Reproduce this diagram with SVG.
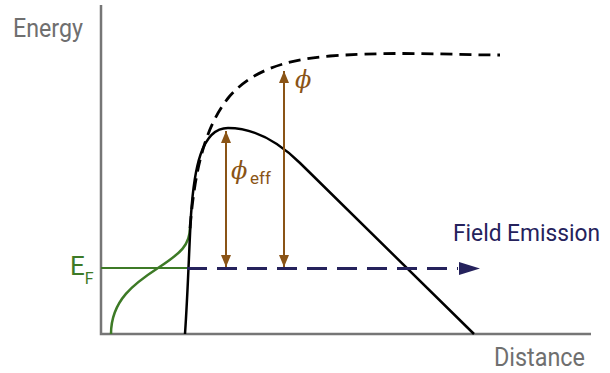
<svg xmlns="http://www.w3.org/2000/svg" width="610" height="373" viewBox="0 0 610 373">
<style>
.axis{stroke:#767676;stroke-width:2.5;fill:none}
.lbl{font-family:Roboto,"Liberation Sans",sans-serif}
.gray{fill:#6f6f6f}
.brown{stroke:#8a5416;stroke-width:2;fill:none}
</style>
<defs>
<marker id="bh" viewBox="0 0 12 10" refX="12" refY="5" markerWidth="12" markerHeight="10" markerUnits="userSpaceOnUse" orient="auto-start-reverse">
<path d="M0,0 L12,5 L0,10 Z" fill="#8a5416"/>
</marker>
</defs>
<rect width="610" height="373" fill="#fff"/>
<g id="axes">
<path class="axis" d="M101,5 V334 H591"/>
<text class="lbl gray" x="13" y="37" font-size="25" textLength="70" lengthAdjust="spacingAndGlyphs">Energy</text>
<text class="lbl gray" x="494" y="366" font-size="26" textLength="91" lengthAdjust="spacingAndGlyphs">Distance</text>
</g>
<g id="fermi">
<line x1="101" y1="268" x2="190" y2="268" stroke="#3d7a26" stroke-width="2"/>
<path d="M111,334 C111,300 135,283 158,268 C181,253 190,245 190,227" stroke="#3d7a26" stroke-width="2.5" fill="none"/>
<text class="lbl" x="70" y="275" font-size="26" fill="#3d7a26">E<tspan font-size="16" dx="0" dy="9">F</tspan></text>
</g>
<g id="barriers">
<path d="M190,228 C194,180 202,130 229,97 C250,73 280,60 330,56 C400,51 450,55 500,55" stroke="#000" stroke-width="2.8" fill="none" stroke-dasharray="12,7"/>
<path d="M185,334 C188,290 189,250 191,215 C194,170 201,128 228,128 C251,128 276,139.5 300,163 L474,334" stroke="#000" stroke-width="2.5" fill="none"/>
</g>
<g id="connectors">
<line class="brown" x1="284" y1="267" x2="284" y2="71" marker-start="url(#bh)" marker-end="url(#bh)"/>
<line class="brown" x1="226" y1="267" x2="226" y2="131" marker-start="url(#bh)" marker-end="url(#bh)"/>
<line x1="187" y1="268.5" x2="458" y2="268.5" stroke="#25225c" stroke-width="3" stroke-dasharray="20,10"/>
<path d="M459,262 L480,268.5 L459,275 Z" fill="#25225c"/>
</g>
<g id="labels">
<text x="295" y="88" font-family="'DejaVu Serif',serif" font-style="italic" font-size="24" fill="#8a5416">ϕ</text>
<text x="231" y="179" font-family="'DejaVu Serif',serif" font-style="italic" font-size="24" fill="#8a5416">ϕ</text>
<text class="lbl" x="250" y="184" font-size="17" fill="#8a5416">eff</text>
<text class="lbl" x="453" y="241" font-size="24" fill="#25225c" textLength="147" lengthAdjust="spacingAndGlyphs">Field Emission</text>
</g>
</svg>
